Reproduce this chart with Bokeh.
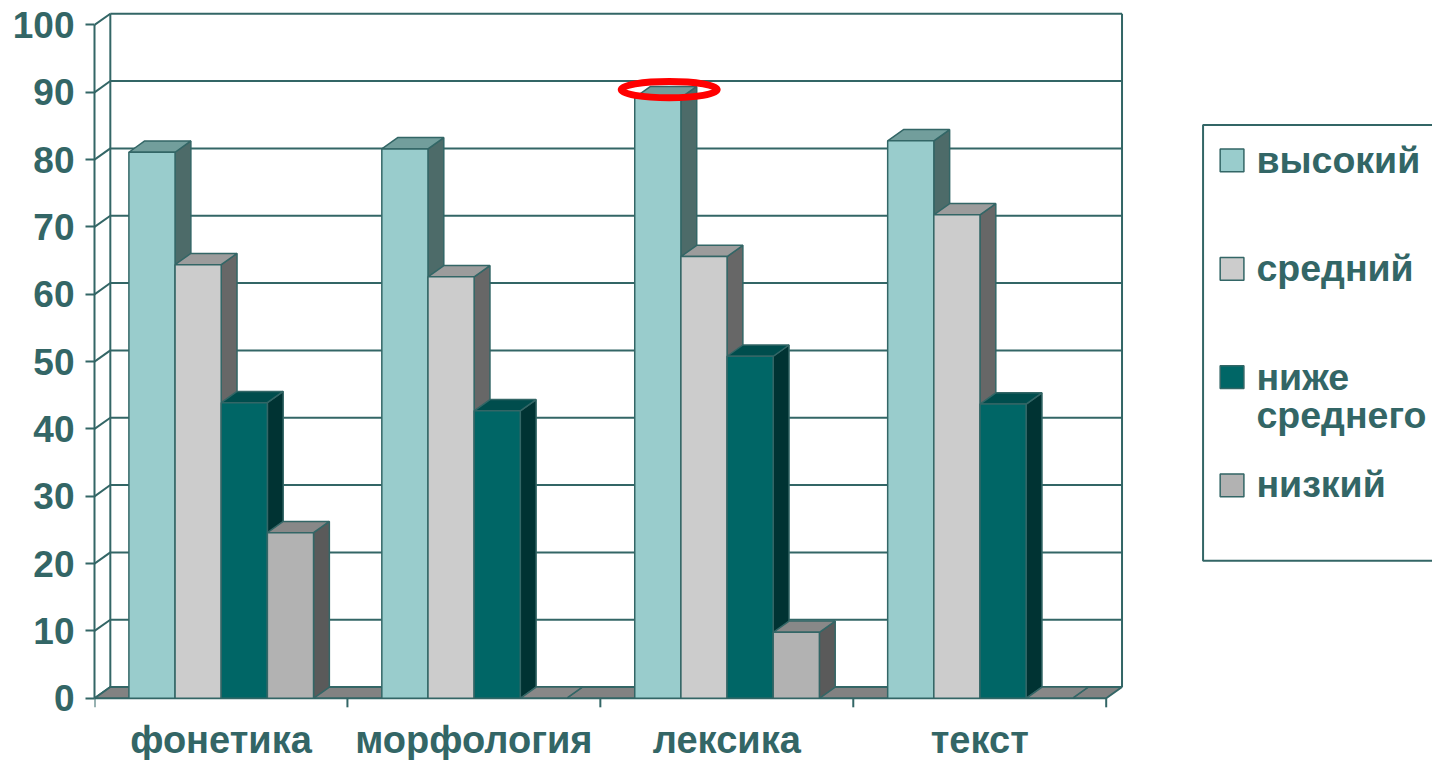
from bokeh.plotting import figure
from bokeh.models import Range1d, FixedTicker
from bokeh.core.properties import value
from bokeh.embed import file_html
from bokeh.resources import INLINE

# ---------------- data ----------------
categories = ["фонетика", "морфология", "лексика", "текст"]
series_names = ["высокий", "средний", "ниже\nсреднего", "низкий"]
vysokiy = [81.1, 81.6, 89.2, 82.8]
sredniy = [64.4, 62.6, 65.6, 71.8]
nizhe_srednego = [43.9, 42.7, 50.8, 43.7]
nizkiy = [24.6, 0.0, 9.8, 0.0]
y_ticks = [0, 10, 20, 30, 40, 50, 60, 70, 80, 90, 100]

series_values = [vysokiy, sredniy, nizhe_srednego, nizkiy]

# ---------------- styles ----------------
TEAL = "#336666"
FONT = "Liberation Sans"
front_colors = ["#99CCCC", "#CCCCCC", "#006666", "#B2B2B2"]
top_colors = ["#729E9C", "#9C9C9C", "#004D4D", "#888888"]
side_colors = ["#4D6B69", "#676767", "#003333", "#5A5A5A"]
FLOOR = "#828282"

# ---------------- layout (pixels) ----------------
W, H = 1432, 760
KX, KY = W / 1448, H / 776          # page scale


def rx(X):
    return X * KX


def ry(Y):
    return Y * KY


FRAME_LEFT = 94                      # px from figure left to value axis
ZERO_PX = ry(712.5)                  # px from figure top to value 0
SX = (rx(1118) - rx(95)) / 4         # px per category
SY = (ry(712.5) - ry(25)) / 100      # px per value unit
DX = rx(16) / SX                     # depth offset (data units)
DY = ry(11.5) / SY
BAR_OFF = 0.136
BAR_W = 0.1825
TICK = 9
CAT_FS = 38
LEG_FS = 37.5
MID_SHIFT = 0.025                    # em: text-box middle vs x-height middle


def fx(px):
    return (px - FRAME_LEFT) / SX


def fy(py):
    return (ZERO_PX - py) / SY


n_cat = len(categories)
ymax = y_ticks[-1]

p = figure(width=W, height=H,
           x_range=Range1d(0, fx(W)), y_range=Range1d(fy(H), fy(0)),
           output_backend="svg", toolbar_location=None,
           x_axis_location=None,
           min_border_left=FRAME_LEFT, min_border_right=0,
           min_border_top=0, min_border_bottom=0)
p.outline_line_color = None
p.grid.visible = False
p.xgrid.visible = False
p.ygrid.visible = False
p.background_fill_color = "white"

ya = p.yaxis[0]
ya.ticker = FixedTicker(ticks=y_ticks, minor_ticks=[])
ya.bounds = (0, ymax)
ya.axis_line_color = TEAL
ya.axis_line_width = 2
ya.major_tick_line_color = TEAL
ya.major_tick_line_width = 2
ya.major_tick_out = TICK
ya.major_tick_in = 0
ya.minor_tick_line_color = None
ya.major_label_standoff = 11
ya.major_label_text_font = FONT
ya.major_label_text_font_style = "bold"
ya.major_label_text_font_size = "37px"
ya.major_label_text_color = TEAL

# ---------- walls ----------
p.segment(x0=[DX] * len(y_ticks), y0=[t + DY for t in y_ticks],
          x1=[n_cat + DX] * len(y_ticks), y1=[t + DY for t in y_ticks],
          line_color=TEAL, line_width=2)
p.segment(x0=[0] * len(y_ticks), y0=y_ticks,
          x1=[DX] * len(y_ticks), y1=[t + DY for t in y_ticks],
          line_color=TEAL, line_width=2)
p.segment(x0=[DX, n_cat + DX], y0=[DY, DY], x1=[DX, n_cat + DX], y1=[ymax + DY, ymax + DY],
          line_color=TEAL, line_width=2)

# ---------- floor ----------
p.patch(x=[0, n_cat, n_cat + DX, DX], y=[0, 0, DY, DY],
        fill_color=FLOOR, line_color=TEAL, line_width=2)

# category tick marks
p.segment(x0=list(range(n_cat + 1)), y0=[0] * (n_cat + 1),
          x1=list(range(n_cat + 1)), y1=[-TICK / SY] * (n_cat + 1),
          line_color=TEAL, line_width=2)

# ---------- bars ----------
side_xs, side_ys, side_c = [], [], []
top_xs, top_ys, top_c = [], [], []
fl, fr, ft, fc = [], [], [], []
for i in range(n_cat):
    for j, vals in enumerate(series_values):
        v = vals[i]
        x0 = i + BAR_OFF + j * BAR_W
        x1 = x0 + BAR_W
        side_xs.append([x1, x1 + DX, x1 + DX, x1])
        side_ys.append([0, DY, v + DY, v])
        side_c.append(side_colors[j])
        top_xs.append([x0, x1, x1 + DX, x0 + DX])
        top_ys.append([v, v, v + DY, v + DY])
        top_c.append(top_colors[j])
        fl.append(x0); fr.append(x1); ft.append(v); fc.append(front_colors[j])

p.patches(xs=side_xs, ys=side_ys, fill_color=side_c, line_color=TEAL, line_width=1.5)
p.patches(xs=top_xs, ys=top_ys, fill_color=top_c, line_color=TEAL, line_width=1.5)
p.quad(left=fl, right=fr, bottom=[0] * len(fl), top=ft, fill_color=fc,
       line_color=TEAL, line_width=1.5)

# ---------- highlight ellipse around maximum ----------
best_i, best_j, best_v = 0, 0, -1
for j, vals in enumerate(series_values):
    for i, v in enumerate(vals):
        if v > best_v:
            best_i, best_j, best_v = i, j, v
ex = best_i + BAR_OFF + best_j * BAR_W + BAR_W / 2 + DX / 2 + rx(3.5) / SX
ey = best_v + DY / 2 + ry(2.5) / SY
p.ellipse(x=[ex], y=[ey], width=rx(97) / SX, height=ry(16.5) / SY,
          fill_color=None, line_color="#FF0000", line_width=7)

# ---------- category labels ----------
cat_mid = ry(756) - MID_SHIFT * CAT_FS
p.text(x=[i + 0.5 for i in range(n_cat)], y=[0] * n_cat, text=categories,
       y_offset=cat_mid - ZERO_PX, text_align="center", text_baseline="middle",
       text_font=value(FONT), text_font_style="bold", text_font_size=f"{CAT_FS}px",
       text_color=TEAL)

# ---------- legend (drawn) ----------
LEG_LEFT, LEG_TOP, LEG_BOTTOM = rx(1216), ry(127), ry(572)
p.quad(left=[fx(LEG_LEFT)], right=[fx(W + 20)], top=[fy(LEG_TOP)], bottom=[fy(LEG_BOTTOM)],
       fill_color="white", line_color=TEAL, line_width=2)
sw_centers = [ry(c) for c in (163.3, 274, 384.5, 495)]
line_mids = [ry(c) for c in (164.2, 274, 385.5, 494.8)]
LINE_GAP = ry(38.5)
SW_L, SW_R = rx(1233.3), rx(1257.3)
SW_H = ry(23.3)
p.quad(left=[fx(SW_L)] * 4, right=[fx(SW_R)] * 4,
       top=[fy(c - SW_H / 2) for c in sw_centers], bottom=[fy(c + SW_H / 2) for c in sw_centers],
       fill_color=front_colors, line_color=TEAL, line_width=1.5)
lx, ly, lt = [], [], []
for name, m in zip(series_names, line_mids):
    for k, line in enumerate(name.split("\n")):
        lx.append(fx(rx(1270)))
        ly.append(fy(m + k * LINE_GAP - MID_SHIFT * LEG_FS))
        lt.append(line)
p.text(x=lx, y=ly, text=lt, text_align="left", text_baseline="middle",
       text_font=value(FONT), text_font_style="bold", text_font_size=f"{LEG_FS}px",
       text_color=TEAL)

open("out.html", "w").write(file_html(p, INLINE))
